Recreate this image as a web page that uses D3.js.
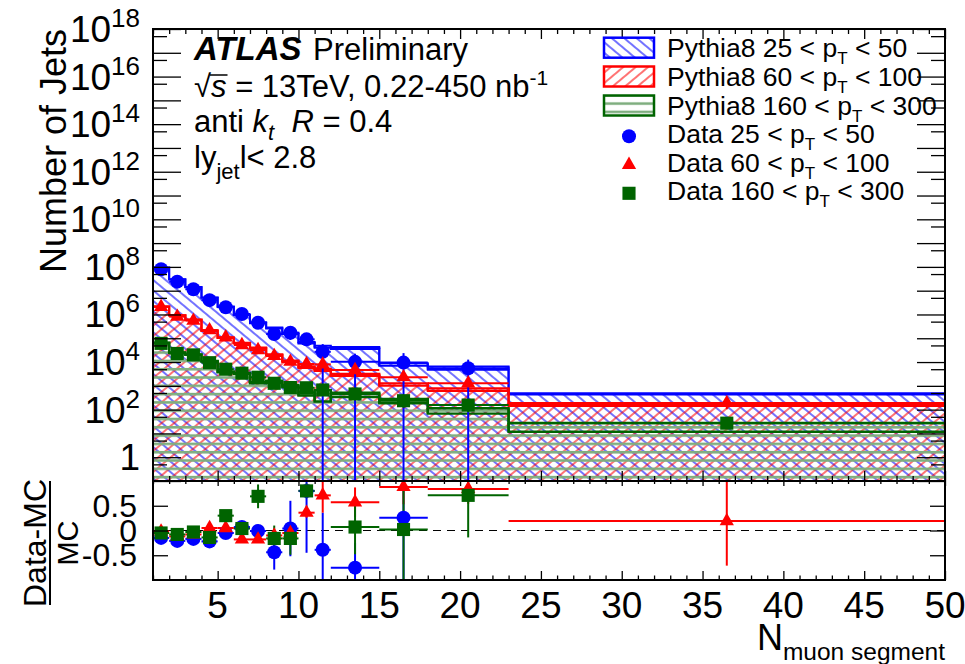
<!DOCTYPE html>
<html><head><meta charset="utf-8">
<script src="https://cdn.jsdelivr.net/npm/d3@7"></script>
<style>
body{margin:0;background:#fff}
text{font-family:"Liberation Sans",Arial,Helvetica,sans-serif;white-space:pre;fill:#000}
</style>
</head><body>
<svg id="c" width="965" height="664"></svg>
<script>
// ---------------- data ----------------
const binEdges = [1,2,3,4,5,6,7,8,9,10,11,12,15,18,23,50];

const mcBlue      = [9.4e7,3.0e7,1.4e7,5.1e6,2.1e6,9.8e5,4.5e5,2.7e5,1.6e5,6.5e4,4.4e4,3.9e4,8.0e3,5.6e3,460];
const mcBlueUnc   = [0.01,0.01,0.01,0.02,0.02,0.03,0.04,0.05,0.06,0.08,0.1,0.1,0.12,0.15,0.05];
const mcRed       = [2.14e6,9.2e5,6.0e5,2.1e5,1.05e5,6.3e4,3.9e4,2.0e4,1.08e4,6.1e3,4.7e3,2.9e3,1.15e3,700,160];
const mcRedUnc    = [0.01,0.01,0.01,0.02,0.02,0.03,0.04,0.05,0.06,0.08,0.1,0.1,0.12,0.12,0.1];
const mcGreen     = [6.4e4,2.5e4,2.06e4,1.09e4,3.85e3,3.3e3,1.36e3,1.52e3,1.0e3,460,440,425,232,91,19.5];
const mcGreenUnc  = [0.01,0.02,0.02,0.03,0.04,0.05,0.06,0.08,0.1,0.15,0.5,0.2,0.2,0.25,0.4];

const dataBlue     = [8e7,2.4e7,1.15e7,4e6,2e6,1.05e6,4.5e5,1.5e5,1.7e5,9e4,2.7e4,1.02e4,9.5e3,5.5e3,null];
const dataBlueErr  = [0.01,0.02,0.02,0.03,0.04,0.05,0.06,0.3,0.5,0.45,1.1,1.2,1.5,1.3,null];
const dataRed      = [2.1e6,8.1e5,5.5e5,2.2e5,1.1e5,5.2e4,3.2e4,1.8e4,1.03e4,8.3e3,8.0e3,4.6e3,2.3e3,1.28e3,190];
const dataRedErr   = [0.01,0.01,0.02,0.02,0.03,0.04,0.05,0.06,0.07,0.08,0.15,0.2,0.2,0.2,0.45];
const dataGreen    = [6.1e4,2.3e4,2.0e4,9.4e3,5.0e3,3.4e3,2.3e3,1.28e3,850,830,670,455,237,156,27];
const dataGreenErr = [0.01,0.02,0.02,0.03,0.05,0.06,0.08,0.15,0.2,0.15,0.3,0.3,0.5,0.5,0.3];

const ratioBlue     = [-0.15,-0.21,-0.17,-0.22,-0.05,0.07,-0.01,-0.44,0.04,0.80,-0.39,-0.75,0.26,null,null];
const ratioBlueErr  = [0.02,0.03,0.03,0.04,0.05,0.06,0.08,0.35,0.56,1.25,0.75,0.5,1.4,null,null];
const ratioRed      = [-0.02,-0.12,-0.08,0.05,0.05,-0.18,-0.18,-0.1,-0.05,0.36,0.71,0.57,0.88,0.84,0.19];
const ratioRedErr   = [0.01,0.02,0.02,0.03,0.03,0.04,0.05,0.06,0.07,0.1,0.35,0.3,0.35,0.3,0.9];
const ratioGreen    = [-0.05,-0.08,-0.03,-0.14,0.30,0.04,0.69,-0.16,-0.16,0.80,null,0.07,0.02,0.71,null];
const ratioGreenErr = [0.02,0.03,0.03,0.05,0.06,0.08,0.24,0.26,0.33,0.15,null,0.55,1.2,0.85,null];

const xMajorTicks = [5,10,15,20,25,30,35,40,45,50];
const yLabelExps = [2,4,6,8,10,12,14,16,18];
const ratioTicks = [-0.5,0,0.5];
const ratioTickLabels = ["-0.5","0","0.5"];
const legendLabels = [
  ["Pythia8 25 < p","T"," < 50"],
  ["Pythia8 60 < p","T"," < 100"],
  ["Pythia8 160 < p","T"," < 300"],
  ["Data 25 < p","T"," < 50"],
  ["Data 60 < p","T"," < 100"],
  ["Data 160 < p","T"," < 300"]
];

// ---------------- layout ----------------
const L=153, R=945, T=29, B=481, RB=580;
const BLUE="#0000ff", RED="#ff0000", GREEN="#006400";
const svg = d3.select("#c");
const x  = d3.scaleLinear().domain([1,50]).range([L,R]);
const y  = d3.scaleLog().domain([0.1,1e18]).range([B,T]);
const yr = d3.scaleLinear().domain([-1,1]).range([RB,B]);

const defs = svg.append("defs");
function hatch(id, rot, color, w){
  const p = defs.append("pattern").attr("id",id).attr("patternUnits","userSpaceOnUse")
    .attr("width",8).attr("height",8).attr("patternTransform",`rotate(${rot})`);
  p.append("line").attr("x1",4).attr("x2",4).attr("y1",-2).attr("y2",10).attr("stroke",color).attr("stroke-width",w);
}
hatch("hBlue",-50,BLUE,1.1);
hatch("hRed",50,RED,1.1);
const pg = defs.append("pattern").attr("id","hGreen").attr("patternUnits","userSpaceOnUse").attr("width",8).attr("height",8.3);
pg.append("line").attr("x1",-1).attr("x2",9).attr("y1",4).attr("y2",4).attr("stroke","#7fae7f").attr("stroke-width",2.6);
defs.append("clipPath").attr("id","clipMain").append("rect").attr("x",L).attr("y",T).attr("width",R-L).attr("height",B-T);
defs.append("clipPath").attr("id","clipRatio").append("rect").attr("x",L).attr("y",B).attr("width",R-L).attr("height",RB-B);

// ---------------- MC histograms ----------------
const gMain = svg.append("g").attr("clip-path","url(#clipMain)");
const mcSeries = [
  {v:mcBlue,u:mcBlueUnc,c:BLUE,p:"hBlue",w:2},
  {v:mcRed,u:mcRedUnc,c:RED,p:"hRed",w:2.2},
  {v:mcGreen,u:mcGreenUnc,c:GREEN,p:"hGreen",w:2.4}
];
function stepPath(vals){
  let d = `M${x(binEdges[0])},${y(vals[0])}`;
  vals.forEach((v,i)=>{ d += `L${x(binEdges[i])},${y(v)}L${x(binEdges[i+1])},${y(v)}`; });
  return d;
}
mcSeries.forEach(s=>{
  const hi = s.v.map((v,i)=>v*(1+s.u[i]));
  const d = stepPath(hi) + `L${x(binEdges[binEdges.length-1])},${B+5}L${x(binEdges[0])},${B+5}Z`;
  gMain.append("path").attr("d",d).attr("fill",`url(#${s.p})`).attr("stroke","none");
});
mcSeries.forEach(s=>{
  const hi = s.v.map((v,i)=>v*(1+s.u[i]));
  const lo = s.v.map((v,i)=>v*(1-s.u[i]));
  [hi,lo].forEach(arr=>{
    gMain.append("path").attr("d",stepPath(arr)).attr("fill","none").attr("stroke",s.c).attr("stroke-width",s.w);
  });
  s.v.forEach((v,i)=>{
    [binEdges[i],binEdges[i+1]].forEach(e=>{
      gMain.append("line").attr("x1",x(e)).attr("x2",x(e)).attr("y1",y(hi[i])).attr("y2",y(lo[i]))
        .attr("stroke",s.c).attr("stroke-width",s.w);
    });
  });
});

// ---------------- markers ----------------
function marker(g, kind, cx, cy, color){
  if(kind==="circle") g.append("circle").attr("cx",cx).attr("cy",cy).attr("r",7).attr("fill",color);
  else if(kind==="tri") g.append("path").attr("d",d3.symbol(d3.symbolTriangle,88)()).attr("transform",`translate(${cx},${cy})`).attr("fill",color);
  else g.append("path").attr("d",d3.symbol(d3.symbolSquare,172)()).attr("transform",`translate(${cx},${cy})`).attr("fill",color);
}
const dataSeries = [
  {v:dataBlue,e:dataBlueErr,c:BLUE,k:"circle"},
  {v:dataRed,e:dataRedErr,c:RED,k:"tri"},
  {v:dataGreen,e:dataGreenErr,c:GREEN,k:"square"}
];
dataSeries.forEach(s=>{
  s.v.forEach((v,i)=>{
    if(v==null) return;
    const xc = x((binEdges[i]+binEdges[i+1])/2), yc = y(v);
    const lo = v*(1-s.e[i]) > 0.1 ? y(v*(1-s.e[i])) : B+5;
    gMain.append("line").attr("x1",xc).attr("x2",xc).attr("y1",y(v*(1+s.e[i]))).attr("y2",lo).attr("stroke",s.c).attr("stroke-width",2);
    gMain.append("line").attr("x1",x(binEdges[i])).attr("x2",x(binEdges[i+1])).attr("y1",yc).attr("y2",yc).attr("stroke",s.c).attr("stroke-width",2);
  });
});
dataSeries.forEach(s=>{
  s.v.forEach((v,i)=>{
    if(v==null) return;
    marker(gMain, s.k, x((binEdges[i]+binEdges[i+1])/2), y(v), s.c);
  });
});

// ---------------- ratio ----------------
const gRat = svg.append("g").attr("clip-path","url(#clipRatio)");
gRat.append("line").attr("x1",L).attr("x2",R).attr("y1",yr(0)).attr("y2",yr(0))
  .attr("stroke","#000").attr("stroke-width",1.2).attr("stroke-dasharray","8,6");
const ratioSeries = [
  {v:ratioBlue,e:ratioBlueErr,c:BLUE,k:"circle"},
  {v:ratioRed,e:ratioRedErr,c:RED,k:"tri"},
  {v:ratioGreen,e:ratioGreenErr,c:GREEN,k:"square"}
];
ratioSeries.forEach(s=>{
  s.v.forEach((v,i)=>{
    if(v==null) return;
    const xc = x((binEdges[i]+binEdges[i+1])/2), yc = yr(v);
    gRat.append("line").attr("x1",xc).attr("x2",xc).attr("y1",yr(v+s.e[i])).attr("y2",yr(v-s.e[i])).attr("stroke",s.c).attr("stroke-width",2);
    gRat.append("line").attr("x1",x(binEdges[i])).attr("x2",x(binEdges[i+1])).attr("y1",yc).attr("y2",yc).attr("stroke",s.c).attr("stroke-width",2);
  });
});
ratioSeries.forEach(s=>{
  s.v.forEach((v,i)=>{
    if(v==null) return;
    marker(gRat, s.k, x((binEdges[i]+binEdges[i+1])/2), yr(v), s.c);
  });
});

// ---------------- axes / ticks ----------------
function ticks(tr, axis){
  const g = svg.append("g").attr("transform",tr).call(axis);
  g.select(".domain").remove();
  g.selectAll("text").remove();
  g.selectAll("line").attr("stroke","#000").attr("stroke-width",1.3);
}
const xMinor = d3.range(1,51).filter(v=>v%5!==0);
const decades = d3.range(-1,19).map(n=>Math.pow(10,n));
const yMinor = d3.range(-1,18).map(n=>5*Math.pow(10,n));
ticks(`translate(0,${B})`, d3.axisBottom(x).tickValues(xMinor).tickSize(-5));
ticks(`translate(0,${B})`, d3.axisBottom(x).tickValues(xMajorTicks).tickSize(-10));
ticks(`translate(0,${T})`, d3.axisTop(x).tickValues(xMinor).tickSize(-5));
ticks(`translate(0,${T})`, d3.axisTop(x).tickValues(xMajorTicks).tickSize(-10));
ticks(`translate(${L},0)`, d3.axisLeft(y).tickValues(decades).tickSize(-28));
ticks(`translate(${L},0)`, d3.axisLeft(y).tickValues(yMinor).tickSize(-14));
ticks(`translate(${R},0)`, d3.axisRight(y).tickValues(decades).tickSize(-28));
ticks(`translate(${R},0)`, d3.axisRight(y).tickValues(yMinor).tickSize(-14));
ticks(`translate(0,${RB})`, d3.axisBottom(x).tickValues(xMinor).tickSize(-4.5));
ticks(`translate(0,${RB})`, d3.axisBottom(x).tickValues(xMajorTicks).tickSize(-9));
ticks(`translate(0,${B})`, d3.axisTop(x).tickValues(xMinor).tickSize(-3));
ticks(`translate(0,${B})`, d3.axisTop(x).tickValues(xMajorTicks).tickSize(-5));
ticks(`translate(${L},0)`, d3.axisLeft(yr).tickValues(ratioTicks).tickSize(-15));
ticks(`translate(${R},0)`, d3.axisRight(yr).tickValues(ratioTicks).tickSize(-15));

svg.append("rect").attr("x",L).attr("y",T).attr("width",R-L).attr("height",B-T).attr("fill","none").attr("stroke","#000").attr("stroke-width",2);
svg.append("rect").attr("x",L).attr("y",B).attr("width",R-L).attr("height",RB-B).attr("fill","none").attr("stroke","#000").attr("stroke-width",2);

// ---------------- rich text helper ----------------
function rich(parent, x0, y0, parts, anchor){
  const g = parent.append("g");
  let cx = x0; const items = [];
  parts.forEach(p=>{
    const t = g.append("text").attr("x",cx+(p.dx||0)).attr("y",y0+(p.dy||0)).attr("font-size",p.size).text(p.t);
    if(p.italic) t.attr("font-style","italic");
    if(p.bold) t.attr("font-weight","bold");
    const w = t.node().getComputedTextLength();
    items.push({x:cx+(p.dx||0), w, t});
    cx += w + (p.dx||0);
  });
  if(anchor==="end") g.attr("transform",`translate(${x0-cx},0)`);
  if(anchor==="middle") g.attr("transform",`translate(${(x0-cx)/2},0)`);
  return {g, items, end:cx};
}

// y tick labels
yLabelExps.forEach(n=>{
  rich(svg, 140, y(Math.pow(10,n))+13, [{t:"10",size:37},{t:String(n),size:26,dy:-15}], "end");
});
rich(svg, 140, y(1)+13, [{t:"1",size:37}], "end");
// ratio tick labels
ratioTicks.forEach((v,i)=>{
  rich(svg, 137, yr(v)+11, [{t:ratioTickLabels[i],size:32}], "end");
});
// x tick labels
xMajorTicks.forEach(v=>{
  rich(svg, x(v), 618, [{t:String(v),size:37}], "middle");
});

// axis titles
const gy = svg.append("g").attr("transform","translate(66,29) rotate(-90)");
rich(gy, 0, 0, [{t:"Number of Jets",size:36}], "end");
rich(svg, 945, 650, [{t:"N",size:36},{t:"muon segment",size:24.5,dy:10}], "end");
const gr1 = svg.append("g").attr("transform","translate(46,543) rotate(-90)");
rich(gr1, 0, 0, [{t:"Data-MC",size:32}], "middle");
svg.append("line").attr("x1",50).attr("x2",50).attr("y1",481).attr("y2",605).attr("stroke","#000").attr("stroke-width",2);
const gr2 = svg.append("g").attr("transform","translate(78,543) rotate(-90)");
rich(gr2, 0, 0, [{t:"MC",size:29}], "middle");

// ---------------- annotations ----------------
rich(svg, 194, 60, [{t:"ATLAS",size:33,bold:true,italic:true}]);
rich(svg, 313, 60, [{t:"Preliminary",size:31}]);
const l2 = rich(svg, 194, 97, [{t:"\u221A",size:31},{t:"s",size:31,italic:true},{t:" = 13TeV, 0.22-450 nb",size:31},{t:"-1",size:21,dy:-12}]);
{ const it = l2.items[1]; svg.append("line").attr("x1",it.x-1).attr("x2",it.x+it.w+1).attr("y1",75).attr("y2",75).attr("stroke","#000").attr("stroke-width",1.5); }
rich(svg, 194, 132, [{t:"anti ",size:31},{t:"k",size:31,italic:true},{t:"t",size:22,italic:true,dy:8},{t:"  ",size:31},{t:"R",size:31,italic:true},{t:" = 0.4",size:31}]);
rich(svg, 194, 168, [{t:"ly",size:31},{t:"jet",size:22,dy:11},{t:"l< 2.8",size:31}]);

// ---------------- legend ----------------
const legY = [56.7,85.5,114.5,143.3,171.8,200.3];
const boxes = [{p:"hBlue",c:BLUE},{p:"hRed",c:RED},{p:"hGreen",c:GREEN}];
boxes.forEach((b,i)=>{
  svg.append("rect").attr("x",604).attr("y",legY[i]-19).attr("width",50).attr("height",20)
    .attr("fill",`url(#${b.p})`).attr("stroke",b.c).attr("stroke-width",2.5);
});
marker(svg,"circle",629,legY[3]-7,BLUE);
marker(svg,"tri",629,legY[4]-7,RED);
marker(svg,"square",629,legY[5]-7,GREEN);
legendLabels.forEach((lab,i)=>{
  rich(svg, 667, legY[i], [{t:lab[0],size:26.5},{t:lab[1],size:17,dy:7}, {t:lab[2],size:26.5}]);
});
</script>
</body></html>
